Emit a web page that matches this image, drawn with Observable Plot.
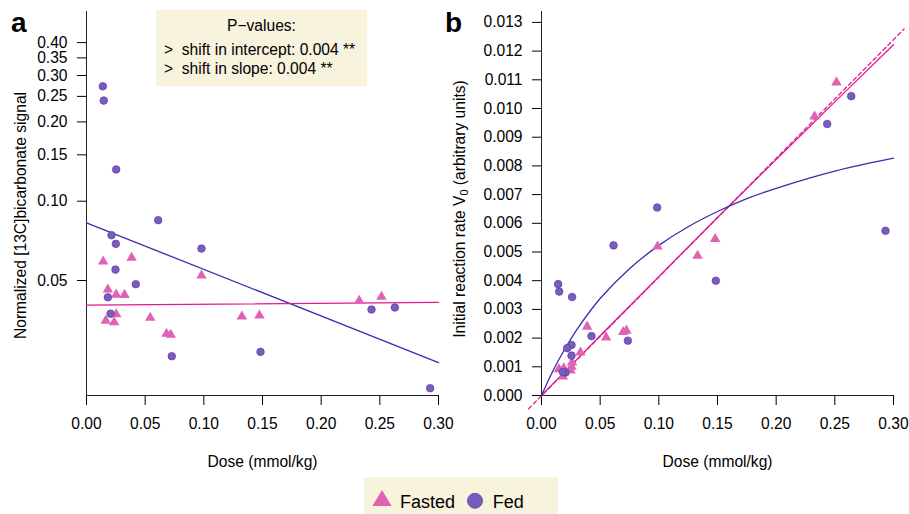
<!DOCTYPE html>
<html><head><meta charset="utf-8">
<script src="https://cdn.jsdelivr.net/npm/d3@7"></script>
<script src="https://cdn.jsdelivr.net/npm/@observablehq/plot@0.6"></script>
<style>
body{margin:0;background:#fff;font-family:"Liberation Sans",Arial,Helvetica,sans-serif;color:#000;}
#wrap{position:relative;width:909px;height:514px;overflow:hidden;background:#fff;}
.panel{position:absolute;top:0;}
.letter{position:absolute;font-weight:bold;font-size:28px;line-height:28px;top:9px;}
.box{position:absolute;background:#f7f3dd;}
.pline{position:absolute;font-size:15.6px;line-height:19px;white-space:pre;}
.ylab{position:absolute;font-size:15.6px;white-space:nowrap;transform:translate(-50%,-50%) rotate(-90deg);line-height:1;}
.ylab sub{font-size:0.7em;vertical-align:-0.3em;line-height:0;}
</style></head><body>
<div id="wrap">
  <div id="pa" class="panel" style="left:0;width:460px"></div>
  <div id="pb" class="panel" style="left:440px;width:469px"></div>
  <div class="letter" style="left:11px">a</div>
  <div class="letter" style="left:445px">b</div>
  <div class="box" style="left:156px;top:10px;width:211px;height:76px">
    <div class="pline" style="left:0;width:211px;text-align:center;top:6px">P−values:</div>
    <div class="pline" style="left:8px;top:30px">&gt;  shift in intercept: 0.004 **</div>
    <div class="pline" style="left:8px;top:49px">&gt;  shift in slope: 0.004 **</div>
  </div>
  <div class="ylab" style="left:460px;top:209px">Initial reaction rate V<sub>0</sub> (arbitrary units)</div>
  <div class="box" style="left:364px;top:477px;width:194px;height:40px">
    <svg width="194" height="40" style="position:absolute;left:0;top:0" font-family="Liberation Sans, Arial, Helvetica, sans-serif" font-size="18">
      <polygon points="18,13 8.4,29 27.6,29" fill="#e062b4"/>
      <text x="36" y="31" fill="#000">Fasted</text>
      <circle cx="111" cy="23.8" r="7.5" fill="#7b5bbf" stroke="#5a3d9e" stroke-width="0.8"/>
      <text x="128.7" y="31" fill="#000">Fed</text>
    </svg>
  </div>
</div>
<script>
// ---------- Panel a data (log scale signal) ----------
const fedDoseA = [0.0139, 0.0147, 0.0253, 0.0213, 0.0250, 0.0611, 0.0980, 0.0247, 0.0420, 0.0182, 0.0205, 0.0727, 0.1483, 0.2429, 0.2628, 0.2929];
const fedSignalA = [0.273, 0.241, 0.132, 0.0743, 0.0689, 0.0847, 0.0661, 0.0550, 0.0484, 0.0432, 0.0374, 0.0258, 0.0268, 0.0388, 0.0395, 0.0195];
const fastedDoseA = [0.0142, 0.0182, 0.0253, 0.0324, 0.0384, 0.0164, 0.0236, 0.0253, 0.0543, 0.0682, 0.0718, 0.0980, 0.1324, 0.1474, 0.2324, 0.2514];
const fastedSignalA = [0.0590, 0.0462, 0.0442, 0.0441, 0.0610, 0.0352, 0.0347, 0.0372, 0.0361, 0.0314, 0.0311, 0.0522, 0.0365, 0.0368, 0.0419, 0.0434];
const fedTrendDoseA = [0, 0.30];
const fedTrendSignalA = [0.0828, 0.0244];
const fastedTrendDoseA = [0, 0.30];
const fastedTrendSignalA = [0.0403, 0.0413];
const signalTicks = [0.05, 0.10, 0.15, 0.20, 0.25, 0.30, 0.35, 0.40];
const doseTicks = [0, 0.05, 0.10, 0.15, 0.20, 0.25, 0.30];

// ---------- Panel b data (initial rate) ----------
const fedDoseB = [0.0142, 0.0151, 0.0261, 0.0614, 0.0986, 0.1486, 0.2932, 0.0426, 0.0736, 0.0256, 0.0219, 0.0256, 0.0205, 0.0182, 0.2435, 0.2640];
const fedRateB = [0.00388, 0.00362, 0.00343, 0.00523, 0.00655, 0.00400, 0.00574, 0.00207, 0.00191, 0.00176, 0.00165, 0.00139, 0.00080, 0.00082, 0.00946, 0.01043];
const fastedDoseB = [0.0389, 0.0551, 0.0696, 0.0724, 0.0989, 0.1330, 0.1480, 0.0332, 0.0261, 0.0148, 0.0190, 0.0182, 0.0247, 0.0256, 0.2327, 0.2514];
const fastedRateB = [0.00240, 0.00202, 0.00221, 0.00226, 0.00519, 0.00487, 0.00545, 0.00150, 0.00115, 0.00092, 0.00095, 0.00066, 0.00087, 0.00100, 0.00972, 0.01091];
const fedFitDose = [0, 0.01, 0.02, 0.03, 0.05, 0.075, 0.10, 0.125, 0.15, 0.175, 0.20, 0.25, 0.30];
const fedFitRate = [0, 0.00088, 0.00163, 0.00229, 0.00338, 0.00442, 0.00523, 0.00588, 0.00641, 0.00686, 0.00722, 0.00782, 0.00827];
const fastedFitDose = [0, 0.05, 0.10, 0.15, 0.20, 0.25, 0.30];
const fastedFitRate = [0, 0.00208, 0.00414, 0.00620, 0.00822, 0.01023, 0.01222];
const fastedLinDose = [-0.011, 0.309];
const fastedLinRate = [-0.00046, 0.01277];
const rateTicks = [0, 0.001, 0.002, 0.003, 0.004, 0.005, 0.006, 0.007, 0.008, 0.009, 0.010, 0.011, 0.012, 0.013];

const PURPLE = "#7b5bbf", PURPLE_EDGE = "#5a3d9e", PINK = "#e062b4";
const FED_LINE = "#3b2cae", FASTED_LINE = "#e3198f";
const FONT = "Liberation Sans, Arial, Helvetica, sans-serif";

const zip = (xs, ys) => xs.map((x, i) => ({x, y: ys[i]}));
const baseStyle = {background: "transparent", overflow: "visible", fontSize: "15.6px", fontFamily: FONT, color: "#000"};

const yBottomA = 0.0183;
const pa = Plot.plot({
  width: 460, height: 470,
  marginLeft: 86, marginRight: 22, marginTop: 11, marginBottom: 75,
  style: baseStyle,
  x: {domain: [0, 0.30], ticks: doseTicks, tickFormat: d3.format(".2f"), tickSize: 10, tickPadding: 12, label: null},
  y: {type: "log", domain: [yBottomA, 0.525], ticks: signalTicks, tickFormat: d3.format(".2f"), tickSize: 9, tickPadding: 10, label: null},
  marks: [
    Plot.ruleX([0], {stroke: "#222"}),
    Plot.ruleY([yBottomA], {stroke: "#222"}),
    Plot.line(zip(fedTrendDoseA, fedTrendSignalA), {x: "x", y: "y", stroke: FED_LINE, strokeWidth: 1.3}),
    Plot.line(zip(fastedTrendDoseA, fastedTrendSignalA), {x: "x", y: "y", stroke: FASTED_LINE, strokeWidth: 1.3}),
    Plot.dot(zip(fastedDoseA, fastedSignalA), {x: "x", y: "y", symbol: "triangle", r: 3.9, fill: PINK}),
    Plot.dot(zip(fedDoseA, fedSignalA), {x: "x", y: "y", r: 3.8, fill: PURPLE, stroke: PURPLE_EDGE, strokeWidth: 0.7}),
    Plot.text(["Dose (mmol/kg)"], {text: d => d, frameAnchor: "bottom", dy: 71, fontSize: 15.6, fill: "#000"}),
    Plot.text(["Normalized [13C]bicarbonate signal"], {text: d => d, frameAnchor: "left", textAnchor: "middle", lineAnchor: "middle", rotate: -90, dx: -66, dy: 12, fontSize: 15.6, fill: "#000"})
  ]
});
document.getElementById("pa").appendChild(pa);

const pb = Plot.plot({
  width: 469, height: 470,
  marginLeft: 101, marginRight: 16, marginTop: 11, marginBottom: 75,
  style: baseStyle,
  x: {domain: [0, 0.30], ticks: doseTicks, tickFormat: d3.format(".2f"), tickSize: 10, tickPadding: 12, label: null},
  y: {domain: [0, 0.01338], ticks: rateTicks, tickFormat: d3.format(".3f"), tickSize: 9, tickPadding: 10, label: null},
  marks: [
    Plot.ruleX([0], {stroke: "#222"}),
    Plot.ruleY([0], {stroke: "#222"}),
    Plot.line(zip(fastedLinDose, fastedLinRate), {x: "x", y: "y", stroke: FASTED_LINE, strokeWidth: 1.3, strokeDasharray: "4,3"}),
    Plot.line(zip(fastedFitDose, fastedFitRate), {x: "x", y: "y", stroke: FASTED_LINE, strokeWidth: 1.3, curve: "catmull-rom"}),
    Plot.line(zip(fedFitDose, fedFitRate), {x: "x", y: "y", stroke: FED_LINE, strokeWidth: 1.3, curve: "catmull-rom"}),
    Plot.dot(zip(fastedDoseB, fastedRateB), {x: "x", y: "y", symbol: "triangle", r: 3.9, fill: PINK}),
    Plot.dot(zip(fedDoseB, fedRateB), {x: "x", y: "y", r: 3.8, fill: PURPLE, stroke: PURPLE_EDGE, strokeWidth: 0.7}),
    Plot.text(["Dose (mmol/kg)"], {text: d => d, frameAnchor: "bottom", dy: 71, fontSize: 15.6, fill: "#000"})
  ]
});
document.getElementById("pb").appendChild(pb);
</script>
</body></html>
